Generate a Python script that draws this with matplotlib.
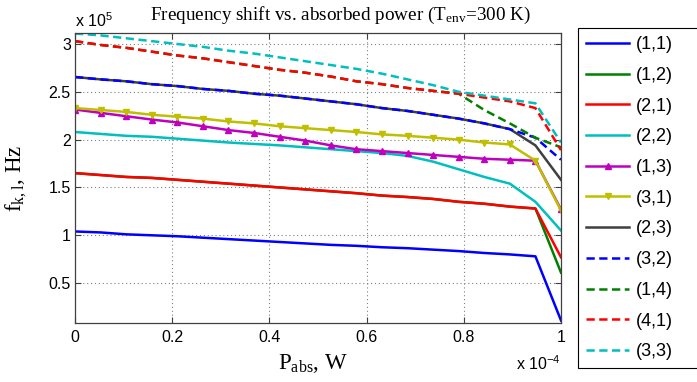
import numpy as np
import matplotlib
matplotlib.use('Agg')
import matplotlib.pyplot as plt

# absorbed power, units of 1e-4 W (20 points)
p_abs = np.linspace(0, 1, 20)

# frequency shift, units of 1e5 Hz
f11 = [1.04, 1.03, 1.01, 1.00, 0.99, 0.975, 0.96, 0.945, 0.93, 0.915,
       0.90, 0.89, 0.875, 0.865, 0.85, 0.835, 0.815, 0.80, 0.78, 0.11]
f12 = [1.65, 1.63, 1.61, 1.60, 1.58, 1.56, 1.54, 1.52, 1.50, 1.48,
       1.46, 1.44, 1.415, 1.40, 1.38, 1.35, 1.33, 1.30, 1.28, 0.61]
f21 = [1.65, 1.63, 1.61, 1.60, 1.58, 1.56, 1.54, 1.52, 1.50, 1.48,
       1.46, 1.44, 1.415, 1.40, 1.38, 1.35, 1.33, 1.30, 1.28, 0.77]
f22 = [2.08, 2.06, 2.04, 2.03, 2.01, 1.99, 1.97, 1.955, 1.94, 1.92,
       1.90, 1.88, 1.86, 1.83, 1.77, 1.69, 1.61, 1.54, 1.35, 1.05]
f13 = [2.315, 2.28, 2.245, 2.21, 2.18, 2.14, 2.10, 2.07, 2.03, 1.99,
       1.94, 1.90, 1.88, 1.86, 1.84, 1.82, 1.80, 1.79, 1.78, 1.27]
f31 = [2.33, 2.31, 2.29, 2.26, 2.24, 2.22, 2.19, 2.17, 2.14, 2.12,
       2.10, 2.08, 2.055, 2.04, 2.02, 2.00, 1.97, 1.95, 1.78, 1.26]
f23 = [2.655, 2.63, 2.61, 2.58, 2.56, 2.53, 2.51, 2.48, 2.46, 2.43,
       2.40, 2.37, 2.33, 2.30, 2.26, 2.22, 2.17, 2.11, 1.94, 1.58]
f32 = [2.655, 2.63, 2.61, 2.58, 2.56, 2.53, 2.51, 2.48, 2.46, 2.43,
       2.40, 2.37, 2.33, 2.30, 2.26, 2.22, 2.17, 2.11, 2.02, 1.79]
f14 = [3.03, 2.99, 2.96, 2.92, 2.88, 2.85, 2.81, 2.77, 2.73, 2.70,
       2.66, 2.61, 2.58, 2.54, 2.51, 2.48, 2.31, 2.17, 2.02, 1.92]
f41 = [3.03, 2.99, 2.96, 2.92, 2.88, 2.85, 2.81, 2.77, 2.73, 2.70,
       2.66, 2.61, 2.58, 2.54, 2.51, 2.48, 2.44, 2.40, 2.33, 1.89]
f33 = [3.11, 3.09, 3.06, 3.03, 3.00, 2.97, 2.93, 2.90, 2.86, 2.82,
       2.78, 2.74, 2.69, 2.63, 2.57, 2.50, 2.46, 2.42, 2.38, 1.97]

labels = ['(1,1)', '(1,2)', '(2,1)', '(2,2)', '(1,3)', '(3,1)',
          '(2,3)', '(3,2)', '(1,4)', '(4,1)', '(3,3)']
series = [f11, f12, f21, f22, f13, f31, f23, f32, f14, f41, f33]
colors = ['#0000ff', '#008000', '#ff0000', '#00bfbf', '#bf00bf', '#bfbf00',
          '#404040', '#0000ff', '#008000', '#ff0000', '#00bfbf']
styles = ['-', '-', '-', '-', '-', '-', '-', '--', '--', '--', '--']
markers = [None, None, None, None, '^', 'v', None, None, None, None, None]

serif = 'Liberation Serif'
sans = 'Liberation Sans'

fig = plt.figure(figsize=(6.97, 3.82), dpi=100)
ax = fig.add_axes([75/697, 1-323/382, 486/697, 290/382])

for y, lab, c, ls, m in zip(series, labels, colors, styles, markers):
    kw = dict(color=c, lw=1.8, label=lab)
    if ls == '--':
        kw['dashes'] = (3.3, 1.8)
    if m:
        kw.update(marker=m, ms=4.5, mfc=c, mec=c)
    ax.plot(p_abs, y, **kw)

ax.set_xlim(0, 1)
ax.set_ylim(0.083, 3.115)
ax.set_xticks([0, 0.2, 0.4, 0.6, 0.8, 1])
ax.set_xticklabels(['0', '0.2', '0.4', '0.6', '0.8', '1'])
ax.set_yticks([0.5, 1, 1.5, 2, 2.5, 3])
ax.set_yticklabels(['0.5', '1', '1.5', '2', '2.5', '3'])
ax.grid(True, ls=(0, (1, 2.5)), color='#808080', lw=0.8)
ax.tick_params(direction='in', top=True, right=True, length=4,
               color='#404040', labelsize=11.5)
ax.tick_params(axis='x', pad=5)
ax.tick_params(axis='y', pad=3)
for lbl in ax.get_xticklabels() + ax.get_yticklabels():
    lbl.set_fontfamily(sans)
for s in ax.spines.values():
    s.set_color('#404040')
    s.set_linewidth(0.9)

ax.set_xlabel(r'$\mathregular{P_{abs}}$, W', fontfamily=serif, fontsize=16.5)
ax.xaxis.set_label_coords(0.49, -0.1)
ax.set_ylabel(r'$\mathregular{f_{k,l}}$, Hz', fontfamily=serif, fontsize=16.5)
ax.yaxis.set_label_coords(-0.095, 0.5)

fig.text(340/697, 1-15/382, r'Frequency shift vs. absorbed power (T$\mathregular{_{env}}$=300 K)',
         fontfamily=serif, fontsize=13.8, ha='center', va='center')
fig.text(75/697, 1-27/382, r'x 10$\mathregular{^5}$', fontfamily=sans,
         fontsize=11.5, ha='left', va='baseline')
fig.text(561/697, 1-370/382, r'x 10$\mathregular{^{-4}}$', fontfamily=sans,
         fontsize=11.5, ha='right', va='baseline')

leg = fig.legend(loc='upper left', mode='expand',
                 bbox_to_anchor=(578/697, 0.0, 125/697, 1-28/382),
                 borderaxespad=0, fancybox=False, framealpha=1,
                 edgecolor='black', prop={'family': sans, 'size': 13},
                 handlelength=2.4, handletextpad=0.35, labelspacing=0.76,
                 borderpad=0.45)
leg.get_frame().set_linewidth(0.8)

fig.savefig('out.png', dpi=100)
